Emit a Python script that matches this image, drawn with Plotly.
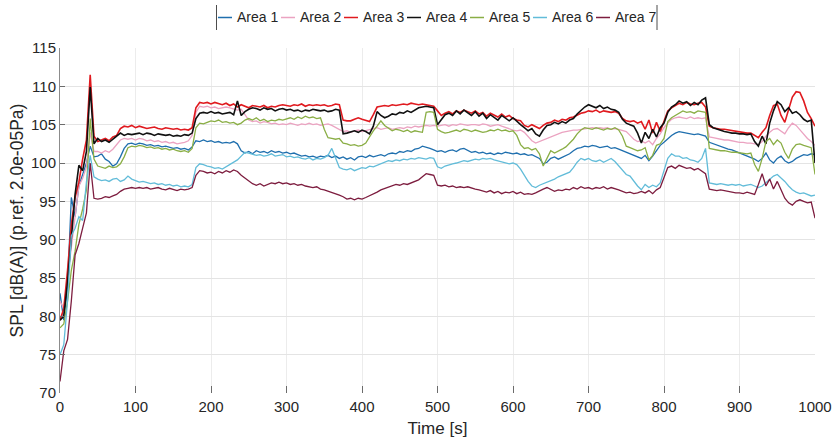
import plotly.graph_objects as go

# Sound pressure level per area, sampled every 5 s from 0 to 1000 s
TIME_S = list(range(0, 1001, 5))

AREA_1 = [
    83.0, 79.5, 84.0, 95.5, 93.0, 97.0, 98.5, 100.0, 102.2, 100.8,
    100.9, 101.2, 100.5, 100.2, 99.6, 99.9, 100.8, 101.9, 102.5, 102.6,
    102.4, 102.6, 102.5, 102.3, 102.4, 102.2, 102.3, 102.1, 102.2, 102.0,
    101.9, 102.0, 101.8, 101.9, 101.7, 102.1, 102.9, 102.8, 103.0, 102.8,
    102.9, 102.7, 102.8, 102.6, 102.7, 102.6, 102.8, 102.5, 101.6, 101.3,
    101.5, 101.2, 101.6, 101.4, 101.5, 101.3, 101.6, 101.4, 101.5, 101.3,
    101.4, 101.2, 101.3, 101.1, 100.9, 101.0, 100.8, 100.9, 100.7, 100.9,
    100.8, 101.0, 100.7, 100.9, 100.6, 100.8, 100.5, 100.7, 100.4, 100.8,
    100.9, 100.7, 101.0, 100.8, 100.9, 101.1, 100.9, 101.2, 101.3, 101.2,
    101.5, 101.4, 101.6, 101.5, 101.8, 101.9, 102.2, 102.1, 101.9, 101.7,
    101.5, 101.6, 101.4, 101.6, 101.7, 101.5, 101.8, 101.9, 101.6, 101.4,
    101.5, 101.3, 101.4, 101.2, 101.3, 101.1, 101.3, 101.2, 101.4, 101.3,
    101.2, 101.3, 101.1, 101.2, 101.0, 101.1, 100.9, 100.6, 99.9, 100.1,
    100.6, 100.8, 100.5, 100.7, 100.9, 101.2, 101.6, 101.9, 102.0, 102.2,
    102.1, 102.3, 102.2, 102.0, 102.1, 102.2, 101.9, 102.0, 101.8, 101.6,
    101.5, 101.2, 101.0, 100.8, 100.6, 101.0, 100.3, 100.9, 101.6, 102.3,
    102.7, 103.2, 103.6, 103.9, 104.1, 104.0, 103.9, 103.8, 103.7, 103.8,
    103.6, 103.5, 102.7, 102.5, 102.3, 102.1, 102.0, 101.8, 101.7, 101.5,
    101.3, 101.2, 101.0, 100.8, 100.5, 100.2, 100.6, 101.3, 100.4, 100.0,
    100.6, 100.9, 100.3, 100.0, 100.2, 100.6, 100.9, 101.1, 101.0, 101.2,
    101.1,
]

AREA_2 = [
    82.0, 81.0, 85.0, 89.0, 93.0, 97.0, 98.0, 99.5, 104.0, 101.5,
    101.5, 101.3, 101.6, 101.4, 101.8, 102.4, 103.0, 103.2, 103.1, 103.2,
    103.0, 103.2, 103.1, 102.9, 103.0, 102.8, 102.9, 102.7, 102.8, 102.6,
    102.7, 102.5, 102.6, 102.7, 102.9, 103.6, 106.6, 107.4, 107.3, 107.4,
    107.2, 107.3, 107.1, 107.2, 107.3, 107.2, 107.0, 106.9, 107.0, 106.3,
    105.6, 105.4, 105.5, 105.2, 105.4, 105.3, 105.1, 105.2, 105.0, 105.1,
    105.0, 105.2, 105.1, 104.9, 105.1, 105.0, 105.2, 105.0, 105.1, 104.9,
    105.0, 105.1, 104.9, 104.6, 104.3, 104.1, 104.2, 104.0, 104.2, 104.3,
    104.1, 104.2, 104.4, 104.5, 104.6, 104.4, 104.5, 104.6, 104.4, 104.5,
    104.6, 104.5, 104.7, 104.6, 104.8, 104.7, 104.8, 104.9, 104.8, 104.9,
    104.8, 104.9, 105.0, 104.8, 105.0, 104.9, 105.1, 105.0, 104.9, 105.0,
    105.0, 104.9, 105.1, 105.0, 104.8, 104.9, 105.0, 104.8, 104.6, 104.4,
    104.3, 104.2, 104.3, 104.0, 103.4, 102.9, 102.6, 102.8, 103.1, 103.3,
    103.4, 103.7, 103.9, 104.0, 104.1, 104.2, 104.3, 104.3, 104.4, 104.5,
    104.5, 104.6, 104.5, 104.6, 104.5, 104.6, 104.4, 104.5, 104.4, 104.2,
    104.1, 103.6, 103.1, 102.8, 102.9, 102.6, 102.9, 102.4, 103.2, 103.8,
    104.6, 105.2, 105.7, 105.9, 106.0, 105.9, 105.8, 106.0, 105.8, 105.9,
    105.8, 105.9, 103.4, 103.3, 103.2, 103.1, 103.0, 103.0, 102.9, 102.8,
    102.7, 102.7, 102.6, 102.6, 102.5, 102.4, 102.8, 103.5, 104.0, 104.4,
    104.5, 104.2, 103.8, 104.6, 105.2, 104.9, 104.3, 103.7, 103.2, 102.8,
    102.3,
]

AREA_3 = [
    79.5, 81.0, 86.0, 92.0, 95.5, 97.5, 100.5, 103.0, 111.5, 103.5,
    102.8, 103.0, 103.2, 102.9, 103.4, 103.6, 104.5, 104.8, 104.7, 104.9,
    104.6, 104.8, 104.7, 104.5, 104.6, 104.7, 104.5, 104.4, 104.6, 104.5,
    104.4, 104.5, 104.3, 104.4, 104.3, 104.6, 107.2, 107.9, 107.8, 107.9,
    107.7, 107.9, 107.8, 107.6, 107.8, 107.5, 107.7, 107.3, 107.6, 107.4,
    107.2, 107.5, 107.4, 107.3, 107.5, 107.2, 107.4, 107.3, 107.5, 107.6,
    107.5, 107.4, 107.6, 107.5, 107.7, 107.4, 107.6, 107.5, 107.6, 107.5,
    107.6, 107.4, 107.5, 107.7, 107.6, 105.6, 105.5, 105.5, 105.7, 105.9,
    105.7, 105.6, 105.4, 106.3, 107.3, 107.4, 107.5, 107.4, 107.6, 107.5,
    107.6, 107.7, 107.6, 107.8, 107.7, 107.6, 107.7, 107.6, 107.5, 107.4,
    106.8, 106.2, 106.5, 106.7, 106.4, 106.8, 106.6, 106.9, 106.7, 106.5,
    106.8, 106.4, 106.6, 106.1, 106.5, 106.3, 106.0, 106.4, 106.0, 106.2,
    105.8, 105.6, 105.5, 104.9, 104.7, 105.0, 104.8, 104.5, 104.9, 105.2,
    105.3, 105.6, 105.4, 105.7, 105.6, 105.9, 106.0, 106.3, 106.5, 106.6,
    106.8, 106.7, 106.9, 106.6, 106.8, 106.7, 106.6, 106.7, 106.5, 105.8,
    105.5, 105.4, 105.5, 105.2, 105.4, 104.4, 105.6, 103.9, 105.3, 104.1,
    105.6, 106.8, 107.2, 107.5, 107.8, 107.6, 107.9, 107.7, 107.6, 107.8,
    107.9, 107.3, 104.8, 104.6, 104.5, 104.4, 104.4, 104.3, 104.2, 104.1,
    104.0, 104.0, 103.9, 103.9, 103.6, 103.3, 104.0, 104.6, 106.2, 107.5,
    107.7, 106.2, 105.3, 106.9, 108.6, 109.3, 109.2, 108.1, 106.6, 105.8,
    104.8,
]

AREA_4 = [
    79.5, 80.0, 84.5, 90.8, 95.9, 99.7, 99.0, 101.5, 109.9, 102.5,
    103.2, 102.8, 103.0, 102.7, 103.1, 103.4, 103.9, 103.6, 103.8, 103.7,
    103.8, 103.9, 103.7, 103.9, 103.8, 103.6, 103.8, 103.7, 103.6, 103.7,
    103.5, 103.6, 103.5, 103.7, 103.6, 103.9, 105.8, 106.5, 106.6, 106.5,
    106.7, 106.5, 106.6, 106.4, 106.5, 106.6, 106.3, 108.1, 106.2, 106.7,
    107.0, 107.2, 107.1, 106.9, 107.2, 107.0, 107.1, 106.8, 107.0, 107.1,
    106.9, 107.0, 106.8, 106.9, 106.7, 106.9, 106.8, 107.0, 106.9, 106.8,
    106.9, 106.7, 106.8, 107.0, 106.9, 103.8, 103.9, 104.1, 104.2, 104.0,
    104.3, 104.1, 103.8, 104.8, 106.7, 106.2, 105.9, 106.1, 106.4, 106.3,
    106.6, 106.5, 106.8, 106.6, 106.9, 107.2, 107.3, 107.4, 107.3, 107.2,
    105.0, 105.6, 106.3, 106.5, 106.2, 106.8, 106.4, 106.9, 106.6, 106.2,
    106.7, 106.1, 106.5, 105.8, 106.3, 106.0, 105.6, 106.2, 105.8, 105.5,
    105.9, 105.4, 105.0, 104.6, 104.2, 104.5, 103.8, 103.5, 104.3, 104.9,
    105.0, 105.3, 105.1, 105.4, 105.2, 105.6, 105.8, 106.4, 106.9, 107.3,
    107.6, 107.4, 107.2, 107.5, 107.1, 107.3, 107.0, 106.9, 106.6, 105.7,
    105.2, 105.0, 104.8, 103.9, 102.6, 104.0, 103.2, 104.4, 103.4, 104.6,
    105.2, 106.6, 107.3, 107.6, 108.1, 107.8, 108.0, 107.5, 107.9, 107.6,
    108.2, 108.5, 105.0, 104.6, 104.4, 104.2, 104.1, 104.0, 103.9, 103.9,
    103.8, 103.8, 103.7, 103.8, 102.8, 102.2, 103.5, 102.5, 105.2, 106.8,
    108.0, 107.6, 106.7, 107.2, 106.5, 106.7, 106.3, 105.7, 105.4, 105.6,
    100.0,
]

AREA_5 = [
    78.5, 79.0, 82.0, 86.0, 88.5, 92.0, 94.0, 96.5, 105.8, 100.5,
    99.6, 99.4, 99.3, 99.6, 99.4, 99.5, 99.9, 100.8, 102.0, 102.2,
    102.1, 102.3, 102.2, 102.0, 102.1, 101.9, 102.0, 101.8, 101.9, 101.7,
    101.8, 101.6, 101.5, 101.6, 101.4, 101.9, 104.6, 105.2, 105.1, 105.3,
    105.5, 105.4, 105.6, 105.3, 105.4, 105.2, 105.3, 105.0, 105.2, 105.6,
    105.8, 105.6, 105.9, 105.5, 105.7, 105.4, 105.6, 105.5, 105.7, 105.6,
    105.8, 105.9, 105.7, 106.0, 105.8, 106.1, 105.9, 106.0, 105.8, 105.9,
    104.4, 103.3, 103.2, 103.1, 103.2, 102.6, 102.5, 102.3, 102.4, 102.2,
    102.3, 102.6, 103.4, 104.2, 104.8, 105.5, 104.9, 104.6, 104.2, 104.4,
    104.3, 104.1, 104.3, 104.0, 104.2, 104.1, 104.0, 106.6, 106.7, 106.6,
    104.4, 104.1, 103.9, 104.0, 104.2, 104.3, 104.1, 104.4, 104.3, 104.1,
    104.3, 104.2, 104.0, 104.1, 104.3, 104.2, 104.4, 104.2, 104.3, 104.1,
    104.2, 103.6, 102.4, 101.9, 102.0, 101.7, 101.9, 101.2, 99.6, 100.6,
    101.6, 101.3, 101.5, 101.8, 102.1, 102.6, 103.1, 103.8, 104.3, 104.6,
    104.5, 104.4, 104.6, 104.5, 104.3, 104.5, 104.4, 104.6, 104.3, 103.5,
    102.2, 102.0, 101.8, 101.6, 101.7, 102.0, 100.4, 101.0, 102.3, 102.5,
    103.2, 105.4, 105.9, 106.2, 106.6, 106.8, 106.6, 106.7, 106.5, 106.8,
    106.7, 106.6, 101.9, 101.8, 101.7, 101.6, 101.6, 101.5, 101.4, 101.4,
    101.3, 101.3, 101.2, 101.3, 99.8, 98.9, 100.6, 102.8, 103.2, 102.4,
    103.0, 102.6, 101.4, 100.6, 101.8, 102.4, 102.5, 102.3, 102.1, 102.0,
    98.5,
]

AREA_6 = [
    75.0, 76.3, 82.0, 90.5, 91.5, 93.0, 92.5, 97.5, 101.0, 98.2,
    97.9, 97.7, 97.8, 97.6, 97.9, 98.0, 97.6, 97.8, 98.3, 97.9,
    97.7, 97.5, 97.6, 97.4, 97.3, 97.4, 97.2, 97.3, 97.1, 97.2,
    97.0, 97.1, 96.9, 97.0, 96.9, 97.2, 99.4, 99.9, 99.8, 99.6,
    99.5, 99.3, 99.4, 99.2, 99.5, 99.7, 100.0, 100.4, 100.9, 101.4,
    101.3, 101.2, 101.0, 101.1, 100.9, 101.0, 101.2, 100.9, 101.0, 101.1,
    100.8, 100.9, 100.7, 100.8, 100.6, 100.5, 100.7, 100.4, 100.6, 100.5,
    100.7, 101.0, 101.9, 100.6, 99.4, 99.2, 99.1, 99.3, 99.0, 99.2,
    99.4, 99.3, 99.6, 99.5, 99.7, 100.0, 100.1, 100.3, 100.2, 100.4,
    100.3, 100.5, 100.4, 100.6, 100.5, 100.7, 100.6, 100.5, 100.7, 100.6,
    99.5, 99.3, 99.6, 99.8, 99.9, 100.0, 100.1, 100.3, 100.2, 100.4,
    100.5, 100.4, 100.6, 100.5, 100.6, 100.4, 100.3, 100.1, 100.0, 99.9,
    100.0, 99.8, 99.2, 98.4, 97.6, 97.0, 96.8, 97.1, 97.3, 97.4,
    97.6, 97.9, 98.2, 98.4, 98.6, 98.8, 99.4, 100.1, 100.6, 100.4,
    100.6, 100.3, 100.2, 100.4, 100.1, 100.3, 100.6, 100.2, 99.6, 99.0,
    98.5, 98.3, 97.6, 97.0, 96.5, 97.2, 96.8, 97.1, 96.9, 97.4,
    99.0, 100.6, 101.2, 100.9, 100.9, 100.6, 100.7, 100.4, 100.3, 100.1,
    100.6, 101.9, 97.4, 97.3, 97.2, 97.3, 97.2, 97.1, 97.2, 97.1,
    97.2, 97.0, 97.1, 97.2, 97.0, 96.8, 97.0, 97.4, 97.8, 98.3,
    98.5, 98.1, 97.6, 97.0, 96.5, 96.2, 96.0, 96.1, 95.9, 95.7,
    95.8,
]

AREA_7 = [
    71.5, 75.5, 77.0, 82.0, 88.0, 89.5, 91.5, 93.5, 100.0, 95.4,
    95.3, 95.4, 95.6, 95.5, 95.7, 95.9, 96.3, 96.6, 96.7, 96.8,
    96.7, 96.8, 96.7, 96.8, 96.6, 96.7, 96.8, 96.6, 96.5, 96.7,
    96.5, 96.4, 96.6, 96.5, 96.6, 96.8, 98.4, 99.0, 98.9, 98.7,
    98.8, 98.6, 98.9, 98.7, 99.0, 98.8, 99.1, 98.9, 98.4, 98.0,
    97.7, 97.3, 97.1, 97.3, 97.0, 97.2, 97.4, 97.3, 97.5, 97.3,
    97.4, 97.2, 97.3, 97.1, 97.2, 97.0, 96.9, 96.8, 96.9, 96.6,
    96.5, 96.3, 96.2, 96.0, 95.8, 95.6, 95.3, 95.4, 95.2, 95.4,
    95.3, 95.5, 95.7, 95.9, 96.2, 96.5, 96.7, 96.8, 97.0, 97.2,
    97.1, 97.3, 97.2, 97.4, 97.6, 97.8, 98.2, 98.6, 98.5, 98.4,
    97.1, 97.0, 97.1, 96.9, 97.0, 96.8, 96.9, 96.8, 96.9, 96.7,
    96.6, 96.5, 96.3, 96.2, 96.4, 96.1, 96.3, 96.0, 96.2, 96.1,
    96.3, 96.0, 96.2, 95.9, 96.0, 95.9, 96.1, 96.4, 96.6, 96.8,
    96.6, 96.3, 96.5, 96.4, 96.6, 96.5, 96.8, 96.6, 96.9, 96.7,
    96.8, 96.6, 96.8, 96.7, 96.9, 96.6, 96.8, 96.7, 96.5, 96.3,
    96.1, 96.2, 96.0, 96.1, 96.3, 96.1, 96.4, 96.0, 96.5, 96.8,
    98.0, 99.4, 99.6, 99.3, 99.7, 99.5, 99.3, 99.4, 99.1, 99.3,
    99.0, 98.6, 96.6, 96.5, 96.4, 96.5, 96.4, 96.3, 96.2, 96.1,
    96.1, 96.0, 96.2, 96.0, 95.9, 97.2, 98.6, 97.0, 97.9, 96.6,
    97.6, 96.5, 95.4, 94.8, 94.5, 95.0, 95.2, 95.0, 94.8, 94.9,
    92.8,
]

SERIES_NAMES = ["Area 1", "Area 2", "Area 3", "Area 4", "Area 5", "Area 6", "Area 7"]
SERIES_VALUES = [AREA_1, AREA_2, AREA_3, AREA_4, AREA_5, AREA_6, AREA_7]
SERIES_COLORS = ["#1f6fae", "#eba3c1", "#e01a1f", "#111111", "#8aae45", "#62bcd9", "#7d1d3f"]
SERIES_WIDTHS = [1.3, 1.3, 1.6, 1.6, 1.3, 1.3, 1.3]

X_TICKS = list(range(0, 1001, 100))
Y_TICKS = list(range(70, 116, 5))

for vals in SERIES_VALUES:
    assert len(vals) == len(TIME_S)

FONT = "Liberation Sans, Arial, Helvetica, sans-serif"
TEXT_COLOR = "#262626"

W, H = 835, 440
M_L, M_R, M_T, M_B = 60, 20, 48, 47
PLOT_W = W - M_L - M_R
PLOT_H = H - M_T - M_B


def px_to_paper_x(px):
    return (px - M_L) / PLOT_W


def px_to_paper_y(py):
    return (H - M_B - py) / PLOT_H


fig = go.Figure()
for name, vals, color, lw in zip(SERIES_NAMES, SERIES_VALUES, SERIES_COLORS, SERIES_WIDTHS):
    fig.add_trace(go.Scatter(
        x=TIME_S, y=vals, mode="lines", name=name,
        line=dict(color=color, width=lw), showlegend=False,
        hovertemplate="%{x} s: %{y:.1f} dB(A)<extra>" + name + "</extra>",
    ))

# Legend row drawn across the top: short line swatch followed by the label
legend_shapes = []
legend_annotations = []
first_text_px = 235
pitch = 63
row_y = 17.5
for i, (name, color) in enumerate(zip(SERIES_NAMES, SERIES_COLORS)):
    tx = first_text_px + i * pitch
    legend_shapes.append(dict(
        type="line", xref="paper", yref="paper",
        x0=px_to_paper_x(tx - 17), x1=px_to_paper_x(tx - 3),
        y0=px_to_paper_y(row_y), y1=px_to_paper_y(row_y),
        line=dict(color=color, width=1.5),
    ))
    legend_annotations.append(dict(
        text=name, xref="paper", yref="paper",
        x=px_to_paper_x(tx), y=px_to_paper_y(row_y),
        xanchor="left", yanchor="middle", showarrow=False,
        font=dict(family=FONT, size=14, color=TEXT_COLOR),
    ))
for bx in (216.5, 657):
    legend_shapes.append(dict(
        type="line", xref="paper", yref="paper",
        x0=px_to_paper_x(bx), x1=px_to_paper_x(bx),
        y0=px_to_paper_y(5), y1=px_to_paper_y(30),
        line=dict(color="#4d4d4d", width=1),
    ))

fig.update_layout(
    width=W, height=H, autosize=False,
    margin=dict(l=M_L, r=M_R, t=M_T, b=M_B, pad=0),
    paper_bgcolor="white", plot_bgcolor="white",
    font=dict(family=FONT, color=TEXT_COLOR),
    shapes=legend_shapes,
    annotations=legend_annotations,
    xaxis=dict(
        range=[0, 1000], tickvals=X_TICKS, ticks="inside", ticklen=7,
        tickcolor="#6b6b6b", tickwidth=1, automargin=False,
        showgrid=True, gridcolor="#ececec", gridwidth=1,
        zeroline=False, showline=False, ticklabelstandoff=3,
        tickfont=dict(family=FONT, size=15, color=TEXT_COLOR),
        title=dict(text="Time [s]", font=dict(family=FONT, size=17, color=TEXT_COLOR), standoff=8),
    ),
    yaxis=dict(
        range=[70, 115], tickvals=Y_TICKS, ticks="inside", ticklen=5,
        tickcolor="#6b6b6b", tickwidth=1, automargin=False,
        showgrid=True, gridcolor="#e4e4e4", gridwidth=1,
        zeroline=False, showline=True, linecolor="#8c8c8c", linewidth=1,
        tickfont=dict(family=FONT, size=15, color=TEXT_COLOR),
        title=dict(text="SPL [dB(A)] (p.ref. 2.0e-05Pa)",
                   font=dict(family=FONT, size=17.5, color=TEXT_COLOR), standoff=2),
    ),
    yaxis2=dict(
        range=[70, 115], tickvals=Y_TICKS, ticks="inside", ticklen=6,
        tickcolor="#8c8c8c", overlaying="y", side="right", automargin=False,
        showticklabels=False, showgrid=False, zeroline=False, showline=False,
    ),
)

fig.write_html("out.html")
